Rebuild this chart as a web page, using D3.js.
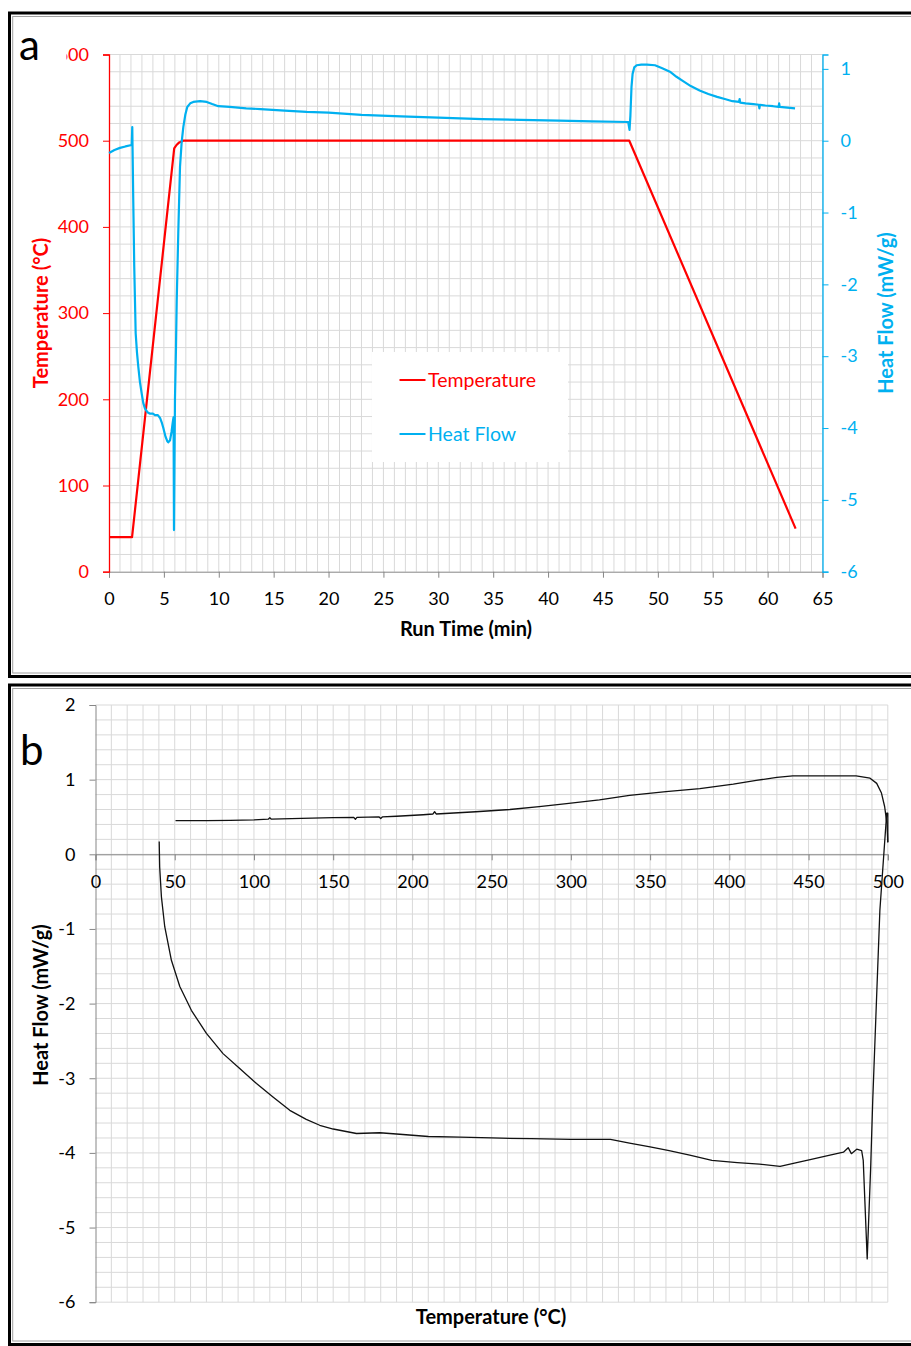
<!DOCTYPE html>
<html>
<head>
<meta charset="utf-8">
<script src="https://cdn.jsdelivr.net/npm/d3@7"></script>
<style>
  html, body { margin: 0; padding: 0; background: #fff; }
  svg { display: block; }
  text { font-family: Lato, "Open Sans", sans-serif; }
</style>
</head>
<body>
<svg id="fig" width="911" height="1346"></svg>
<script>
// ---------- Panel a: run time programme ----------
const runTimeTicks = [0, 5, 10, 15, 20, 25, 30, 35, 40, 45, 50, 55, 60, 65];
const tempTicks = [0, 100, 200, 300, 400, 500, 600];
const heatFlowTicksA = [-6, -5, -4, -3, -2, -1, 0, 1];

// temperature programme (min, °C)
const tempTime  = [0, 2.1, 5.94, 6.15, 6.4, 6.76, 47.4, 62.55];
const tempValue = [40, 40, 491, 495, 498, 500, 500, 50];

// heat flow vs run time (min, mW/g)
const hfTime = [0, 0.5, 1.0, 1.5, 2.07, 2.12, 2.21, 2.30, 2.43, 2.55, 2.67, 2.82, 2.98, 3.12, 3.28, 3.5, 3.74, 4.0,
  4.19, 4.45, 4.65, 4.8, 4.95, 5.15, 5.30, 5.40, 5.56, 5.70, 5.80, 5.88, 5.92, 5.96, 6.01, 6.10, 6.17, 6.31, 6.47,
  6.62, 6.77, 6.95, 7.13, 7.4, 7.68, 8.3, 8.9, 9.4, 9.96, 11, 12.5, 13.8, 16, 18, 20, 23, 26.6, 30, 34, 37.5, 41, 44,
  47.3, 47.42, 47.5, 47.6, 47.7, 47.85, 48.07, 48.5, 49.0, 49.74, 50.4, 51.1, 51.7, 52.3, 53.0, 53.8, 54.6, 55.4,
  56.1, 56.8, 57.4, 57.45, 57.5, 58.0, 58.7, 59.2, 59.25, 59.3, 59.8, 60.5, 61.0, 61.05, 61.1, 61.8, 62.5];
const hfValue = [-0.17, -0.13, -0.10, -0.08, -0.06, 0.19, -0.83, -1.75, -2.68, -2.95, -3.15, -3.36, -3.52, -3.65, -3.73, -3.78, -3.80, -3.80,
  -3.82, -3.82, -3.86, -3.92, -4.00, -4.12, -4.18, -4.20, -4.17, -4.05, -3.93, -3.85, -5.42, -4.60, -3.60, -2.90, -2.22, -1.29, -0.36,
  -0.02, 0.19, 0.36, 0.47, 0.52, 0.54, 0.55, 0.54, 0.51, 0.48, 0.47, 0.45, 0.44, 0.42, 0.40, 0.39, 0.36, 0.34, 0.32, 0.30, 0.29, 0.28, 0.27,
  0.26, 0.15, 0.35, 0.75, 0.93, 1.02, 1.05, 1.06, 1.06, 1.05, 1.01, 0.96, 0.89, 0.83, 0.76, 0.70, 0.65, 0.61,
  0.58, 0.55, 0.54, 0.58, 0.53, 0.52, 0.51, 0.50, 0.45, 0.50, 0.49, 0.48, 0.47, 0.52, 0.47, 0.46, 0.45];

// ---------- Panel b: heat flow vs temperature ----------
const tempAxisTicks = [0, 50, 100, 150, 200, 250, 300, 350, 400, 450, 500];
const heatFlowTicksB = [-6, -5, -4, -3, -2, -1, 0, 1, 2];

// heating ramp and isothermal hold (°C, mW/g)
const heatTemp = [40.2, 40.5, 41.6, 43.7, 47.9, 53.2, 60.5, 70, 80.5, 91, 101.6, 112, 122.6, 133, 141.5, 150, 164.7, 179.4, 192,
  210, 230, 250, 275, 300, 325, 337, 350, 362, 375, 389, 405, 419, 432, 440.4, 451, 463.5, 472, 475, 477, 480.4, 483.5,
  484.5, 487, 489.2, 490.5, 495, 499.3, 500, 500];
const heatHF = [0.17, -0.17, -0.57, -0.97, -1.42, -1.77, -2.09, -2.40, -2.67, -2.87, -3.07, -3.25, -3.43, -3.55, -3.63, -3.68, -3.74, -3.73, -3.75,
  -3.78, -3.79, -3.80, -3.81, -3.82, -3.82, -3.87, -3.92, -3.97, -4.03, -4.10, -4.13, -4.15, -4.18, -4.14, -4.09, -4.03, -3.99, -3.93, -4.01, -3.95, -3.97,
  -4.10, -5.42, -4.19, -3.29, -0.75, 0.55, 0.55, 0.16];

// cooling ramp (°C, mW/g)
const coolTemp = [500, 499.5, 498, 496, 493, 488.8, 480, 465.6, 451, 440, 430, 417, 402.5, 381.4, 360, 337, 318, 297.3, 280, 261.5,
  240, 215, 214, 213, 206.8, 190, 181, 180, 179, 165, 164, 163, 150, 130, 111, 110, 109, 100, 85, 70, 60, 50.5];
const coolHF = [0.16, 0.40, 0.64, 0.82, 0.95, 1.02, 1.05, 1.05, 1.05, 1.05, 1.03, 0.99, 0.94, 0.88, 0.84, 0.79, 0.73, 0.68, 0.64, 0.60,
  0.57, 0.54, 0.57, 0.54, 0.53, 0.51, 0.50, 0.48, 0.50, 0.495, 0.47, 0.495, 0.49, 0.48, 0.47, 0.49, 0.47, 0.46, 0.455, 0.45, 0.45, 0.45];

const RED = "#FF0000", BLUE = "#00B0F0", GRID = "#D9D9D9", AXIS = "#868686";
const plain = d => String(d);   // plain hyphen-minus for negative labels
const svg = d3.select("#fig");
svg.append("rect").attr("width", 911).attr("height", 1346).attr("fill", "#fff");

// panel frames: thick outer border with a thin grey inner border
function frame(y0, y1) {
  svg.append("rect").attr("x", 9.5).attr("y", y0).attr("width", 930).attr("height", y1 - y0)
    .attr("fill", "none").attr("stroke", "#000").attr("stroke-width", 3);
  svg.append("rect").attr("x", 12.7).attr("y", y0 + 3.5).attr("width", 930).attr("height", y1 - y0 - 7)
    .attr("fill", "none").attr("stroke", "#A0A0A0").attr("stroke-width", 1);
}
frame(13, 676.5);
frame(685, 1344.5);

// ================= Panel a =================
const xA = d3.scaleLinear().domain([0, 65]).range([109, 822.5]);
const yT = d3.scaleLinear().domain([0, 600]).range([571.7, 54.5]);
const yH = d3.scaleLinear().domain([-6, 1.2]).range([571.7, 54.5]);

const gA = svg.append("g");
// minor grid: 1 min and 20 °C
gA.append("g").selectAll("line").data(d3.range(1, 66)).join("line")
  .attr("x1", d => xA(d)).attr("x2", d => xA(d)).attr("y1", yT(600)).attr("y2", yT(0))
  .attr("stroke", GRID).attr("stroke-width", 1);
gA.append("g").selectAll("line").data(d3.range(20, 601, 20)).join("line")
  .attr("x1", xA(0)).attr("x2", xA(65)).attr("y1", d => yT(d)).attr("y2", d => yT(d))
  .attr("stroke", GRID).attr("stroke-width", 1);

// bottom axis
const axA = gA.append("g").attr("transform", `translate(0,${yT(0)})`)
  .call(d3.axisBottom(xA).tickValues(runTimeTicks).tickSize(6).tickPadding(15).tickFormat(plain));
axA.select(".domain").attr("stroke", AXIS);
axA.selectAll(".tick line").attr("stroke", AXIS);
axA.selectAll("text").attr("font-size", 18).attr("fill", "#000");

// left axis (temperature)
const ayT = gA.append("g").attr("transform", `translate(${xA(0)},0)`)
  .call(d3.axisLeft(yT).tickValues(tempTicks).tickSize(6).tickPadding(14).tickFormat(plain));
ayT.select(".domain").attr("stroke", RED).attr("stroke-width", 1.3);
ayT.selectAll(".tick line").attr("stroke", RED);
ayT.selectAll("text").attr("font-size", 18).attr("fill", RED);

// right axis (heat flow)
const ayH = gA.append("g").attr("transform", `translate(${xA(65)},0)`)
  .call(d3.axisRight(yH).tickValues(heatFlowTicksA).tickSize(6).tickPadding(12).tickFormat(plain));
ayH.select(".domain").attr("stroke", BLUE).attr("stroke-width", 1.3);
ayH.selectAll(".tick line").attr("stroke", BLUE);
ayH.selectAll("text").attr("font-size", 18).attr("fill", BLUE);

// series
const tempLine = d3.line().x((d, i) => xA(tempTime[i])).y(d => yT(d));
gA.append("path").attr("d", tempLine(tempValue)).attr("fill", "none")
  .attr("stroke", RED).attr("stroke-width", 2.2).attr("stroke-linejoin", "round");
const hfLine = d3.line().x((d, i) => xA(hfTime[i])).y(d => yH(d));
gA.append("path").attr("d", hfLine(hfValue)).attr("fill", "none")
  .attr("stroke", BLUE).attr("stroke-width", 2.2).attr("stroke-linejoin", "round");

// legend
const lg = gA.append("g");
lg.append("rect").attr("x", 372).attr("y", 352).attr("width", 196).attr("height", 110).attr("fill", "#fff");
[["Temperature", RED, 380], ["Heat Flow", BLUE, 434]].forEach(([name, col, y]) => {
  lg.append("line").attr("x1", 399.5).attr("x2", 425.5).attr("y1", y).attr("y2", y)
    .attr("stroke", col).attr("stroke-width", 2);
  lg.append("text").attr("x", 428).attr("y", y).attr("dy", "0.35em")
    .attr("font-size", 19.5).attr("fill", col).text(name);
});

// axis titles
gA.append("text").attr("transform", "translate(48,313) rotate(-90)").attr("text-anchor", "middle")
  .attr("font-size", 20).attr("font-weight", "bold").attr("fill", RED).text("Temperature (°C)");
gA.append("text").attr("transform", "translate(893,313) rotate(-90)").attr("text-anchor", "middle")
  .attr("font-size", 20).attr("font-weight", "bold").attr("fill", BLUE).text("Heat Flow (mW/g)");
gA.append("text").attr("x", 466).attr("y", 636).attr("text-anchor", "middle")
  .attr("font-size", 20).attr("font-weight", "bold").attr("fill", "#000").text("Run Time (min)");

// panel letter (its text box overlaps the top temperature label)
gA.append("rect").attr("x", 15).attr("y", 28).attr("width", 51.5).attr("height", 40).attr("fill", "#fff");
gA.append("text").attr("x", 19).attr("y", 60).attr("font-size", 42).attr("fill", "#000").text("a");

// ================= Panel b =================
const xB = d3.scaleLinear().domain([0, 500]).range([95.5, 887.8]);
const yB = d3.scaleLinear().domain([-6, 2]).range([1302.2, 705]);
const gB = svg.append("g");

// minor grid: 10 °C and 0.2 mW/g
gB.append("g").selectAll("line").data(d3.range(10, 501, 10)).join("line")
  .attr("x1", d => xB(d)).attr("x2", d => xB(d)).attr("y1", yB(2)).attr("y2", yB(-6))
  .attr("stroke", GRID).attr("stroke-width", 1);
gB.append("g").selectAll("line").data(d3.range(-30, 11).map(k => k * 0.2)).join("line")
  .attr("x1", xB(0)).attr("x2", xB(500)).attr("y1", d => yB(d)).attr("y2", d => yB(d))
  .attr("stroke", GRID).attr("stroke-width", 1);

// y axis
const ayB = gB.append("g").attr("transform", `translate(${xB(0)},0)`)
  .call(d3.axisLeft(yB).tickValues(heatFlowTicksB).tickSize(6).tickPadding(14).tickFormat(plain));
ayB.select(".domain").attr("stroke", AXIS);
ayB.selectAll(".tick line").attr("stroke", AXIS);
ayB.selectAll("text").attr("font-size", 18).attr("fill", "#000");

// x axis crossing at zero heat flow
const axB = gB.append("g").attr("transform", `translate(0,${yB(0)})`)
  .call(d3.axisBottom(xB).tickValues(tempAxisTicks).tickSize(6).tickPadding(15).tickFormat(plain));
axB.select(".domain").attr("stroke", AXIS);
axB.selectAll(".tick line").attr("stroke", AXIS);
axB.selectAll("text").attr("font-size", 18).attr("fill", "#000");

// heat flow curves
const lineB = (T) => d3.line().x((d, i) => xB(T[i])).y(d => yB(d));
gB.append("path").attr("d", lineB(heatTemp)(heatHF)).attr("fill", "none")
  .attr("stroke", "#111").attr("stroke-width", 1.3).attr("stroke-linejoin", "round");
gB.append("path").attr("d", lineB(coolTemp)(coolHF)).attr("fill", "none")
  .attr("stroke", "#111").attr("stroke-width", 1.3).attr("stroke-linejoin", "round");

// axis titles
gB.append("text").attr("transform", "translate(48,1005) rotate(-90)").attr("text-anchor", "middle")
  .attr("font-size", 20).attr("font-weight", "bold").attr("fill", "#000").text("Heat Flow (mW/g)");
gB.append("text").attr("x", 491).attr("y", 1324).attr("text-anchor", "middle")
  .attr("font-size", 20).attr("font-weight", "bold").attr("fill", "#000").text("Temperature (°C)");

gB.append("text").attr("x", 20).attr("y", 765).attr("font-size", 42).attr("fill", "#000").text("b");
</script>
</body>
</html>
